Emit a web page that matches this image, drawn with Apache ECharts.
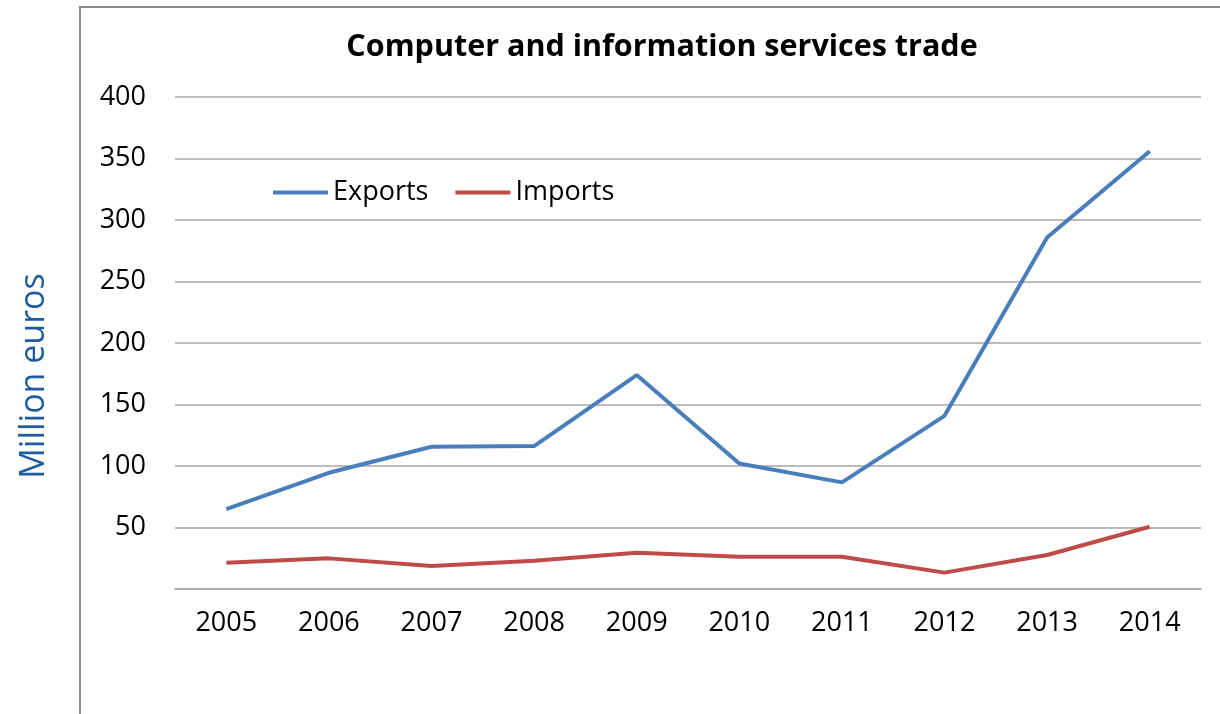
<!DOCTYPE html>
<html>
<head>
<meta charset="utf-8">
<script src="https://cdn.jsdelivr.net/npm/echarts@6/dist/echarts.min.js"></script>
<style>
html,body{margin:0;padding:0;background:#fff;}
#c{width:1220px;height:714px;}
</style>
</head>
<body>
<div id="c"></div>
<script>
var years = ['2005','2006','2007','2008','2009','2010','2011','2012','2013','2014'];
var exportsData = [65, 94.5, 115.6, 116.2, 173.9, 102.1, 86.7, 140.8, 285.7, 355.9];
var importsData = [21.4, 24.9, 18.7, 23, 29.5, 26.3, 26.3, 13.3, 27.6, 50.6];
var yTicks = [0, 50, 100, 150, 200, 250, 300, 350, 400];

var FONT = '"Open Sans", "Noto Sans", sans-serif';
var chart = echarts.init(document.getElementById('c'));
chart.setOption({
  animation: false,
  backgroundColor: '#fff',
  title: {
    text: 'Computer and information services trade',
    left: 657, textAlign: 'center', top: 27,
    textStyle: {fontFamily: FONT, fontWeight: 'bold', fontSize: 30.5, color: '#000'}
  },
  legend: {
    left: 268, top: 174,
    icon: 'rect',
    itemWidth: 55, itemHeight: 4, itemGap: 27,
    textStyle: {fontFamily: FONT, fontSize: 27, color: '#000'},
    data: ['Exports', 'Imports']
  },
  grid: {left: 175, top: 97, width: 1026, height: 492},
  graphic: [
    {type: 'line', silent: true, shape: {x1: 80, y1: 6, x2: 80, y2: 714}, style: {stroke: '#8c8c8c', lineWidth: 2}},
    {type: 'line', silent: true, shape: {x1: 79, y1: 7, x2: 1220, y2: 7}, style: {stroke: '#8c8c8c', lineWidth: 2}}
  ],
  xAxis: {
    type: 'category', data: years, boundaryGap: true,
    axisLine: {lineStyle: {color: '#a6a6a6', width: 1.5}},
    axisTick: {show: false},
    axisLabel: {fontFamily: FONT, fontSize: 27, color: '#000', margin: 21}
  },
  yAxis: {
    type: 'value', min: 0, max: 400, interval: 50,
    name: 'Million euros', nameLocation: 'middle', nameGap: 124, nameRotate: 90,
    nameTextStyle: {fontFamily: FONT, fontSize: 34, color: '#1F5C9E', padding: [0, 66, 0, 0]},
    axisLine: {show: false}, axisTick: {show: false},
    axisLabel: {fontFamily: FONT, fontSize: 27, color: '#000', margin: 29,
      formatter: function (v) { return (v === 0 || yTicks.indexOf(v) < 0) ? '' : String(v); }},
    splitLine: {lineStyle: {color: '#a6a6a6', width: 1.5}}
  },
  series: [
    {name: 'Exports', type: 'line', data: exportsData, symbol: 'none', showSymbol: false,
     lineStyle: {color: '#4A7EBB', width: 4}, itemStyle: {color: '#4A7EBB'}},
    {name: 'Imports', type: 'line', data: importsData, symbol: 'none', showSymbol: false,
     lineStyle: {color: '#BE4B48', width: 4}, itemStyle: {color: '#BE4B48'}}
  ]
});
</script>
</body>
</html>
